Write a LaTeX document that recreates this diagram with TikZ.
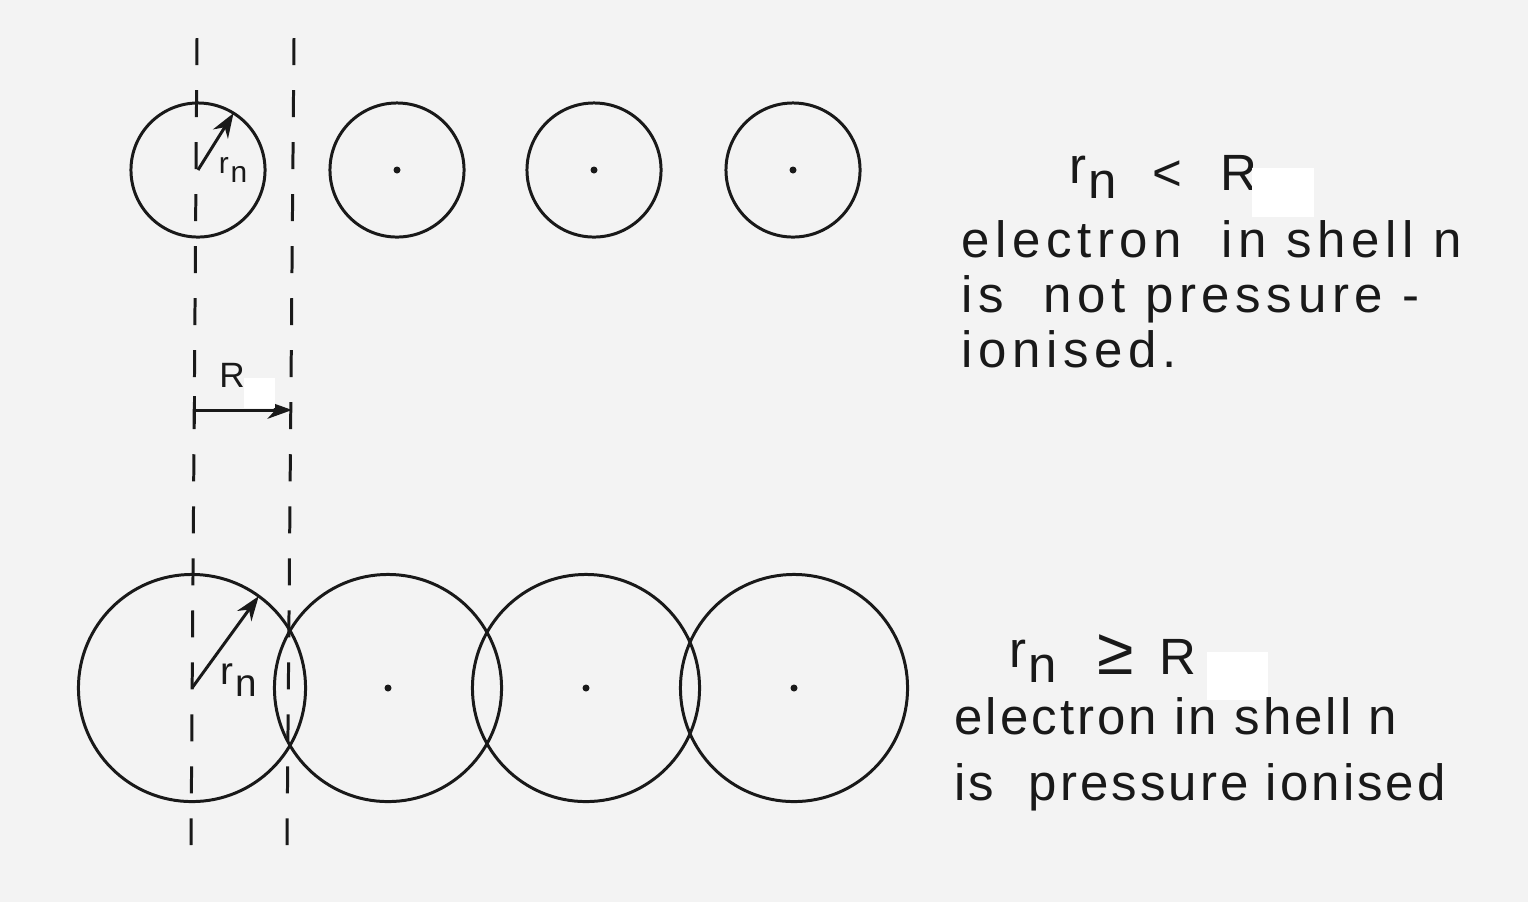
\documentclass[tikz,border=0pt]{standalone}
\usepackage{fontspec}
\setmainfont{Liberation Sans}
\newfontfamily\widetrack[LetterSpace=11]{Liberation Sans}
\newfontfamily\narrowtrack[LetterSpace=6]{Liberation Sans}
\usetikzlibrary{arrows.meta}
\definecolor{paper}{RGB}{243, 243, 243}
\definecolor{ink}{RGB}{25, 25, 25}
\newcommand{\rn}{\raisebox{0.25ex}{r}\kern0.5pt\raisebox{-0.3ex}{n}}

\begin{document}
\begin{tikzpicture}[
  x=0.01cm, y=-0.01cm,
  line width=0.85pt,
  >={Stealth[length=7pt, width=5pt]},
  shell/.style={
    draw=ink,
    circle,
    inner sep=0pt,
    outer sep=0pt
  },
  small shell/.style={shell, minimum size=1.34cm},
  big shell/.style={shell, minimum size=2.27cm},
  dot/.style={
    circle,
    fill=ink,
    inner sep=0pt,
    minimum size=0.07cm
  },
  guide/.style={
    draw=ink,
    dash pattern=on 0.27cm off 0.25cm
  },
  blank/.style={
    fill=white,
    draw=none,
    inner sep=0pt
  }
]

  % Paper
  \fill[paper] (0,0) rectangle (1528,902);
  \useasboundingbox (0,0) rectangle (1528,902);

  % Guide lines
  \coordinate (gl top) at (197,38);
  \coordinate (gl bot) at (191,845);
  \coordinate (gr top) at (294,38);
  \coordinate (gr bot) at (287,845);
  \draw[guide] (gl top) -- (gl bot);
  \draw[guide] (gr top) -- (gr bot);

  % Top row: separated shells
  \node[small shell] (t1) at (198,170) {};
  \node[small shell] (t2) at (397,170) {};
  \node[small shell] (t3) at (594,170) {};
  \node[small shell] (t4) at (793,170) {};
  \node[dot] at (t2.center) {};
  \node[dot] at (t3.center) {};
  \node[dot] at (t4.center) {};

  \draw[->, ink] (t1.center) -- (t1.58);
  \node[font=\fontsize{8.5}{10}\selectfont, text=ink] (tr) at (233,170) {\rn};

  % Spacing R
  \coordinate (ra) at (193,410);
  \coordinate (rb) at (292,410);
  \draw[{Bar[width=8pt]}->, ink] (ra) -- (rb);
  \node[font=\fontsize{10}{12}\selectfont, text=ink] (rlab) at (232,375) {R};
  \node[blank, minimum width=0.31cm, minimum height=0.30cm] (rbox) at (259.5,393) {};

  % Bottom row: overlapping shells
  \node[big shell] (b1) at (192,688) {};
  \node[big shell] (b2) at (388,688) {};
  \node[big shell] (b3) at (586,688) {};
  \node[big shell] (b4) at (794,688) {};
  \node[dot] at (b2.center) {};
  \node[dot] at (b3.center) {};
  \node[dot] at (b4.center) {};

  \draw[->, ink] (b1.center) -- (b1.54);
  \node[font=\fontsize{11}{13}\selectfont, text=ink] (br) at (239,680) {\rn};

  % Top caption
  \node[anchor=base west, inner sep=0pt, font=\fontsize{14.5}{15.6}\selectfont, text=ink] (trel) at (1068,190)
    {\rn\hspace{0.7em}<\hspace{0.75em}R};
  \node[blank, minimum width=0.62cm, minimum height=0.49cm] (tbox) at (1283,192.5) {};
  \node[anchor=base west, inner sep=0pt, align=left, text=ink,
        font=\widetrack\fontsize{14.5}{15.6}\selectfont] (ttxt) at (960,367)
    {electron\ \ in shell n\\is\ \ not pressure -\\ionised.};

  % Bottom caption
  \node[anchor=base west, inner sep=0pt, font=\fontsize{14.5}{15.6}\selectfont, text=ink] (brel) at (1008,674)
    {\rn\hspace{0.8em}\scalebox{1.3}{≥}\hspace{0.5em}R};
  \node[blank, minimum width=0.61cm, minimum height=0.48cm] (bbox) at (1237.5,676) {};
  \node[anchor=base west, inner sep=0pt, align=left, text=ink,
        font=\narrowtrack\fontsize{14.5}{18.5}\selectfont] (btxt) at (953,800)
    {electron in shell n\\is\ \ pressure ionised};

\end{tikzpicture}
\end{document}
